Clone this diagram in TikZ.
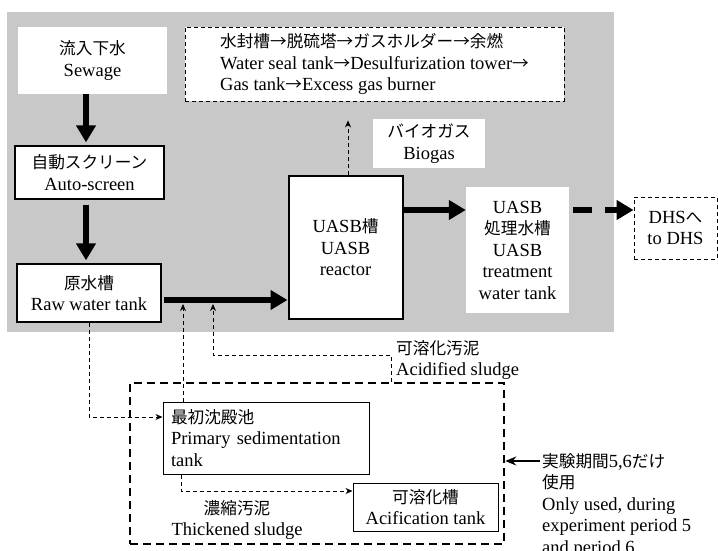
\documentclass[tikz,border=0pt]{standalone}
\usepackage{fontspec}
\setmainfont{Liberation Serif}
\newfontfamily\jp[Scale=0.9]{Noto Sans CJK JP}
\usetikzlibrary{arrows.meta}
\definecolor{bg}{RGB}{200,200,200}
\begin{document}
\begin{tikzpicture}[x=1pt,y=-1pt,
  font=\fontsize{18.5}{21.5}\selectfont,
  box/.style={draw, line width=1.3pt, fill=white, align=center, inner sep=2pt},
  wbox/.style={fill=white, align=center, inner sep=2pt},
  dbox/.style={draw, line width=0.9pt, dash pattern=on 4pt off 3pt, fill=white, inner sep=2pt},
  tbox/.style={draw, line width=1pt, fill=white, inner sep=2pt},
  thickarrow/.style={line width=5.5pt, -{Triangle[length=17pt,width=19pt]}},
  dsh/.style={line width=0.9pt, dash pattern=on 4pt off 3pt, -{Stealth[length=7pt,width=6pt]}}
]
\useasboundingbox (0,0) rectangle (718,550);
\fill[bg] (7,12) rectangle (614,332);

% helper coordinates
\coordinate (x86) at (86,0);
\coordinate (x181) at (181,0);
\coordinate (x183) at (183,0);
\coordinate (x348) at (348,0);
\coordinate (x391) at (391,0);
\coordinate (y210) at (0,210);
\coordinate (y300) at (0,300);
\coordinate (y355) at (0,355);
\coordinate (y417) at (0,417);
\coordinate (y461) at (0,461);
\coordinate (y491) at (0,491);
\coordinate (j1) at (183,304);
\coordinate (j2) at (213,304);

% nodes in the gray area
\node[wbox, minimum width=149pt, minimum height=67pt] (sewage) at (92.5,60.5) {{\jp 流入下水}\\Sewage};
\node[box, minimum width=149pt, minimum height=53pt] (auto) at (89.5,172.5) {{\jp 自動スクリーン}\\Auto-screen};
\node[box, minimum width=144pt, minimum height=58pt] (raw) at (89,293) {{\jp 原水槽}\\Raw water tank};
\node[box, line width=2pt, minimum width=114pt, minimum height=143pt] (reactor) at (345.5,247.5) {UASB{\jp 槽}\\UASB\\reactor};
\node[wbox, minimum width=103pt, minimum height=126pt] (treat) at (517.5,250) {UASB\\{\jp 処理水槽}\\UASB\\treatment\\water tank};
\node[wbox, minimum width=112pt, minimum height=49pt] (biogas) at (429,143.5) {{\jp バイオガス}\\Biogas};
\node[dbox, align=left, minimum width=379pt, minimum height=74pt] (gasline) at (374.5,64)
  {{\jp 水封槽→脱硫塔→ガスホルダー→余燃}\\Water seal tank{\jp →}Desulfurization tower{\jp →}\\Gas tank{\jp →}Excess gas burner};
\node[dbox, align=center, minimum width=83pt, minimum height=62pt] (dhs) at (675.5,228) {DHS{\jp へ}\\to DHS};

% lower part
\node[draw, line width=2.5pt, dash pattern=on 8pt off 5pt, minimum width=374pt, minimum height=161pt, inner sep=0pt] (usedarea) at (317,463.5) {};
\node[tbox, align=left, text width=190pt, inner xsep=8pt, inner ysep=2pt, minimum height=72pt] (primary) at (266,438)
  {{\jp 最初沈殿池}\\Primary sedimentation\\tank};
\node[tbox, align=center, minimum width=145pt, minimum height=48pt] (acif) at (425.5,507) {{\jp 可溶化槽}\\Acification tank};

\node[align=left, anchor=west, inner sep=2pt] (acidlbl) at (394,360) {{\jp 可溶化汚泥}\\Acidified sludge};
\node[align=center, inner sep=2pt] (thicklbl) at (237,520) {{\jp 濃縮汚泥}\\Thickened sludge};
\node[align=left, anchor=north west, inner sep=2pt] (note) at (540,451)
  {{\jp 実験期間}5,6{\jp だけ}\\{\jp 使用}\\Only used, during\\experiment period 5\\and period 6};

% connectors
\draw[thickarrow, shorten >=3pt] (sewage.south -| x86) -- (auto.north -| x86);
\draw[thickarrow, shorten <=5pt, shorten >=3pt] (auto.south -| x86) -- (raw.north -| x86);
\draw[thickarrow, shorten <=2pt] (raw.east |- y300) -- (reactor.west |- y300);
\draw[thickarrow] (reactor.east |- y210) -- (treat.west |- y210);
\draw[thickarrow, dash pattern=on 19pt off 13pt, shorten <=4pt] (treat.east |- y210) -- (dhs.west |- y210);
\draw[dsh, shorten >=19pt] (reactor.north -| x348) -- (gasline.south -| x348);

\draw[dsh] (raw.south) |- (primary.west |- y417);
\draw[dsh] (primary.north -| x183) -- (j1);
\draw[dsh] (usedarea.north -| x391) |- (j2 |- y355) -- (j2);
\draw[dsh] (primary.south -| x181) |- (acif.west |- y491);
\draw[line width=1.5pt, -{Stealth[length=11pt,width=9pt]}] (note.west |- y461) -- (usedarea.east |- y461);
\end{tikzpicture}
\end{document}
